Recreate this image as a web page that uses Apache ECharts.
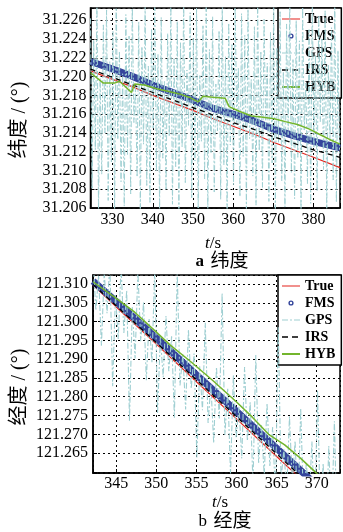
<!DOCTYPE html>
<html>
<head>
<meta charset="utf-8">
<script src="https://cdn.jsdelivr.net/npm/echarts@6/dist/echarts.min.js"></script>
<style>
  html, body { margin: 0; padding: 0; background: #fff; }
  #chart { width: 343px; height: 532px; }
</style>
</head>
<body>
<div id="chart"></div>
<script>
// a 纬度 (latitude), t in s
const tTop = [324.5, 330, 335, 340, 345, 350, 355, 360, 365, 370, 375, 380, 386.6];
const trueTop = [31.2206, 31.2197, 31.2189, 31.2180, 31.2172, 31.2164, 31.2155, 31.2147, 31.2139, 31.2130, 31.2122, 31.2114, 31.2103];
const fmsTop = [31.2216, 31.2208, 31.2200, 31.2191, 31.2183, 31.2175, 31.2166, 31.2160, 31.2153, 31.2144, 31.2137, 31.2131, 31.2124];
const irsTop = [31.2208, 31.2199, 31.2191, 31.2183, 31.2175, 31.2167, 31.2159, 31.2151, 31.2144, 31.2136, 31.2129, 31.2122, 31.2114];
const hybTopT = [324.5, 327.7, 330.5, 331.7, 333, 334.7, 335.5, 337.9, 341, 344, 347, 349, 351.3, 352.5, 355, 358, 359, 361.5, 364.6, 367, 370.2, 373, 376, 379, 381.7, 384, 386.6];
const hybTop = [31.2204, 31.2193, 31.2193, 31.2195, 31.2190, 31.2183, 31.2192, 31.2191, 31.2187, 31.2184, 31.2181, 31.2178, 31.2173, 31.2179, 31.2178, 31.2177, 31.2168, 31.2163, 31.2158, 31.2157, 31.2155, 31.2152, 31.2149, 31.2144, 31.2138, 31.2133, 31.2128];
// GPS fixes, one every 0.4 s
const gpsTopStart = 324.5, gpsTopStep = 0.4;
const gpsTop = [
  31.2262, 31.2081, 31.2239, 31.2122, 31.2281, 31.2057, 31.2198, 31.2096, 31.2255, 31.2140,
  31.2271, 31.2068, 31.2216, 31.2109, 31.2248, 31.2051, 31.2284, 31.2133, 31.2227, 31.2088,
  31.2203, 31.2062, 31.2266, 31.2117, 31.2243, 31.2075, 31.2279, 31.2151, 31.2189, 31.2093,
  31.2258, 31.2055, 31.2232, 31.2128, 31.2275, 31.2084, 31.2211, 31.2066, 31.2251, 31.2145,
  31.2286, 31.2099, 31.2224, 31.2058, 31.2263, 31.2113, 31.2195, 31.2079, 31.2246, 31.2136,
  31.2277, 31.2064, 31.2219, 31.2104, 31.2259, 31.2052, 31.2236, 31.2125, 31.2282, 31.2087,
  31.2207, 31.2148, 31.2268, 31.2071, 31.2241, 31.2110, 31.2273, 31.2060, 31.2201, 31.2131,
  31.2254, 31.2091, 31.2285, 31.2056, 31.2229, 31.2119, 31.2264, 31.2077, 31.2192, 31.2142,
  31.2249, 31.2069, 31.2278, 31.2106, 31.2221, 31.2053, 31.2257, 31.2127, 31.2234, 31.2085,
  31.2280, 31.2150, 31.2209, 31.2072, 31.2267, 31.2115, 31.2244, 31.2059, 31.2272, 31.2134,
  31.2197, 31.2094, 31.2253, 31.2063, 31.2283, 31.2121, 31.2226, 31.2082, 31.2261, 31.2146,
  31.2214, 31.2067, 31.2247, 31.2108, 31.2276, 31.2054, 31.2231, 31.2130, 31.2269, 31.2089,
  31.2205, 31.2061, 31.2256, 31.2138, 31.2281, 31.2098, 31.2218, 31.2070, 31.2260, 31.2114,
  31.2238, 31.2057, 31.2274, 31.2143, 31.2193, 31.2086, 31.2250, 31.2065, 31.2287, 31.2124,
  31.2223, 31.2078, 31.2265, 31.2152, 31.2240, 31.2101, 31.2270, 31.2058, 31.2212, 31.2132,
  31.2252, 31.2090, 31.2279, 31.2066, 31.2228, 31.2118
];

// b 经度 (longitude)
const tBot = [342.1, 345, 350, 355, 360, 365, 370, 372.9];
const trueBot = [121.3097, 121.3039, 121.2940, 121.2840, 121.2741, 121.2641, 121.2542, 121.2484];
const fmsBot = [121.3108, 121.3053, 121.2956, 121.2858, 121.2761, 121.2663, 121.2564, 121.2506];
const irsBot = [121.3099, 121.3042, 121.2944, 121.2845, 121.2747, 121.2648, 121.2549, 121.2491];
const hybBotT = [342.1, 345, 347.3, 350, 351.7, 354.3, 357, 360, 362, 364, 366, 368, 370, 372.9];
const hybBot = [121.3106, 121.3062, 121.3025, 121.2972, 121.2938, 121.2893, 121.2844, 121.2786, 121.2745, 121.2700, 121.2672, 121.2636, 121.2596, 121.2540];
// GPS fixes, one every 0.35 s
const gpsBotStart = 342.1, gpsBotStep = 0.35;
const gpsBot = [
  121.3177, 121.3030, 121.3123, 121.2936, 121.3129, 121.3022, 121.3155, 121.2828, 121.3071, 121.2954,
  121.3147, 121.2970, 121.3083, 121.2736, 121.3039, 121.2902, 121.3135, 121.2948, 121.3051, 121.2844,
  121.3007, 121.2890, 121.3143, 121.2756, 121.2959, 121.2852, 121.3015, 121.2868, 121.2961, 121.2744,
  121.3137, 121.2830, 121.2913, 121.2766, 121.2979, 121.2822, 121.2915, 121.2638, 121.2881, 121.2764,
  121.2997, 121.2730, 121.2833, 121.2676, 121.2879, 121.2742, 121.3075, 121.2698, 121.2821, 121.2594,
  121.2857, 121.2690, 121.2773, 121.2636, 121.2879, 121.2682, 121.2785, 121.2568, 121.2911, 121.2624,
  121.2727, 121.2590, 121.2783, 121.2616, 121.2719, 121.2532, 121.2985, 121.2578, 121.2661, 121.2544,
  121.2747, 121.2570, 121.2683, 121.2486, 121.2769, 121.2512, 121.2625, 121.2518, 121.2681, 121.2464,
  121.2817, 121.2480, 121.2623, 121.2426, 121.2669, 121.2462, 121.2735, 121.2428
];

const legendNames = ['True', 'FMS', 'GPS', 'IRS', 'HYB'];

const serif = '"Liberation Serif", serif';
const cjk = '"Liberation Serif", "Noto Sans CJK SC", serif';

const colors = {
  True: '#e3231c',
  FMS: '#34459b',
  GPS: '#9fcfd2',
  IRS: '#000000',
  HYB: '#73b52c',
};

// legend icons drawn in an 18x14 box (the corner points fix the box)
const box = 'path://M0,0L0,0.01M18,14L18,13.99';
const icons = {
  True: box + 'M0,6.4H18V7.6H0Z',
  FMS: box + 'M11.6,7A2.6,2.6,0,1,1,6.4,7A2.6,2.6,0,1,1,11.6,7ZM10.2,7A1.2,1.2,0,1,0,7.8,7A1.2,1.2,0,1,0,10.2,7Z',
  GPS: box + 'M0,6.4H6V7.6H0ZM8,6.4H10V7.6H8ZM12,6.4H18V7.6H12Z',
  IRS: box + 'M0,6.3H6V7.7H0ZM10,6.3H16V7.7H10Z',
  HYB: box + 'M0,6H18V8H0Z',
};

const pairs = (xs, ys) => ys.map((y, i) => [xs[i], y]);
const steps = (start, step, ys) => ys.map((y, i) => [+(start + i * step).toFixed(2), y]);

function line(name, idx, data, width, type, z) {
  return {
    name,
    type: 'line',
    xAxisIndex: idx,
    yAxisIndex: idx,
    data,
    symbol: 'none',
    z,
    silent: true,
    animation: false,
    color: colors[name],
    lineStyle: { color: colors[name], width, type },
  };
}

const series = [];
[
  { t: tTop, tr: trueTop, fms: fmsTop, irs: irsTop, ht: hybTopT, hyb: hybTop, g0: gpsTopStart, gs: gpsTopStep, gps: gpsTop, gw: 1.0 },
  { t: tBot, tr: trueBot, fms: fmsBot, irs: irsBot, ht: hybBotT, hyb: hybBot, g0: gpsBotStart, gs: gpsBotStep, gps: gpsBot, gw: 1.1 },
].forEach((d, i) => {
  series.push(line('True', i, pairs(d.t, d.tr), 1.2, 'solid', 2));
  series.push(line('FMS', i, pairs(d.t, d.fms), 7, 'solid', 3));
  series.push(line('GPS', i, steps(d.g0, d.gs, d.gps), d.gw, [6, 2, 2, 2], 4));
  series.push(line('IRS', i, pairs(d.t, d.irs), 1.3, [5, 4], 5));
  series.push(line('HYB', i, pairs(d.ht, d.hyb), 1.5, 'solid', 6));
});

function fmtStep(step, digits) {
  return v => {
    const k = v / step;
    return Math.abs(k - Math.round(k)) < 1e-4 ? v.toFixed(digits) : '';
  };
}

const axisCommon = {
  type: 'value',
  axisLine: { show: true, lineStyle: { color: '#000', width: 1.5 } },
  axisTick: { show: true, inside: true, length: 4, lineStyle: { color: '#000' } },
  splitLine: { show: true, lineStyle: { color: '#000', width: 1, type: [2, 3] } },
};

const legendCommon = {
  orient: 'vertical',
  left: 278,
  padding: [4, 6, 4, 4],
  itemGap: 3,
  itemWidth: 18,
  itemHeight: 14,
  itemTextGap: 5,
  borderColor: '#000',
  borderWidth: 1.5,
  borderRadius: 0,
  backgroundColor: '#fff',
  selectedMode: false,
  textStyle: { fontFamily: serif, fontSize: 14, fontWeight: 'bold', color: '#000' },
  data: legendNames.map(n => ({ name: n, icon: icons[n] })),
};

const chart = echarts.init(document.getElementById('chart'));

chart.setOption({
  backgroundColor: '#fff',
  animation: false,
  grid: [
    { left: 90.5, top: 8, width: 254.5, height: 200, show: true, borderColor: '#000', borderWidth: 1.5, backgroundColor: 'transparent' },
    { left: 93, top: 275, width: 252, height: 198, show: true, borderColor: '#000', borderWidth: 1.5, backgroundColor: 'transparent' },
  ],
  xAxis: [
    {
      ...axisCommon, gridIndex: 0, min: 324.5, max: 386.6, splitNumber: 6, minInterval: 10, maxInterval: 10,
      axisLabel: { color: '#000', fontFamily: serif, fontSize: 16, margin: 4, formatter: fmtStep(10, 0) },
    },
    {
      ...axisCommon, gridIndex: 1, min: 342.1, max: 372.9, splitNumber: 6, minInterval: 5, maxInterval: 5,
      axisLabel: { color: '#000', fontFamily: serif, fontSize: 16, margin: 3, formatter: fmtStep(5, 0) },
    },
  ],
  yAxis: [
    {
      ...axisCommon, gridIndex: 0, min: 31.206, max: 31.2273, splitNumber: 10, minInterval: 0.002, maxInterval: 0.002,
      axisLabel: { color: '#000', fontFamily: serif, fontSize: 16, margin: 4, formatter: fmtStep(0.002, 3) },
    },
    {
      ...axisCommon, gridIndex: 1, min: 121.2597, max: 121.3124, splitNumber: 10, minInterval: 0.005, maxInterval: 0.005,
      axisLabel: {
        color: '#000', fontFamily: serif, fontSize: 16, margin: 5,
        formatter: v => (v < 121.262 ? '' : fmtStep(0.005, 3)(v)),
      },
    },
  ],
  legend: [
    { ...legendCommon, top: 8 },
    { ...legendCommon, top: 275 },
  ],
  graphic: [
    {
      type: 'text', x: 20, y: 120, rotation: Math.PI / 2,
      style: { text: '纬度 / (°)', font: '20px ' + cjk, fill: '#000', align: 'center', verticalAlign: 'middle' },
    },
    {
      type: 'text', x: 213, y: 244,
      style: {
        text: '{i|t}/s', align: 'center', verticalAlign: 'middle', fill: '#000',
        font: '17px ' + serif,
        rich: { i: { fontStyle: 'italic', fontFamily: serif, fontSize: 17 } },
      },
    },
    {
      type: 'text', x: 222, y: 262,
      style: {
        text: '{a|a}  {c|纬度}', align: 'center', verticalAlign: 'middle', fill: '#000',
        rich: {
          a: { fontFamily: serif, fontSize: 17, fontWeight: 'bold' },
          c: { fontFamily: cjk, fontSize: 19 },
        },
      },
    },
    {
      type: 'text', x: 20, y: 387, rotation: Math.PI / 2,
      style: { text: '经度 / (°)', font: '20px ' + cjk, fill: '#000', align: 'center', verticalAlign: 'middle' },
    },
    {
      type: 'text', x: 220, y: 503,
      style: {
        text: '{i|t}/s', align: 'center', verticalAlign: 'middle', fill: '#000',
        font: '17px ' + serif,
        rich: { i: { fontStyle: 'italic', fontFamily: serif, fontSize: 17 } },
      },
    },
    {
      type: 'text', x: 225, y: 522,
      style: {
        text: '{a|b}  {c|经度}', align: 'center', verticalAlign: 'middle', fill: '#000',
        rich: {
          a: { fontFamily: serif, fontSize: 17 },
          c: { fontFamily: cjk, fontSize: 19 },
        },
      },
    },
  ],
  series,
});

window.addEventListener('resize', () => chart.resize());
</script>
</body>
</html>
